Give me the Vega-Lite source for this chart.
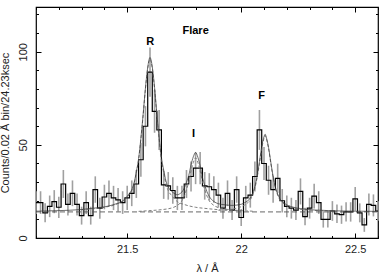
{
  "$schema": "https://vega.github.io/schema/vega-lite/v6.json",
  "width": 342,
  "height": 231,
  "autosize": {"type": "none"},
  "padding": {"left": 36, "top": 7, "right": 4, "bottom": 39},
  "background": "white",
  "config": {
    "view": {"stroke": "black", "strokeWidth": 1.2},
    "axis": {"domain": false, "grid": false, "tickColor": "black", "tickWidth": 1, "labelFont": "Liberation Sans", "labelFontSize": 11, "labelColor": "#222222", "titleFont": "Liberation Sans", "titleFontSize": 11, "titleFontWeight": "normal", "titleColor": "#222222", "labelOverlap": false, "labelBound": false, "labelFlush": false}
  },
  "resolve": {"axis": {"x": "independent", "y": "independent"}},
  "datasets": {
    "hist": [
      {"lam": 21.10, "c": 19, "err": 6.1}, {"lam": 21.12, "c": 19, "err": 6.1}, {"lam": 21.14, "c": 13.5, "err": 5.1},
      {"lam": 21.16, "c": 17, "err": 5.8}, {"lam": 21.18, "c": 19.5, "err": 6.2}, {"lam": 21.20, "c": 16.5, "err": 5.7},
      {"lam": 21.22, "c": 29, "err": 7.5}, {"lam": 21.24, "c": 18, "err": 5.9}, {"lam": 21.26, "c": 24, "err": 6.9},
      {"lam": 21.28, "c": 18, "err": 5.9}, {"lam": 21.30, "c": 12, "err": 4.8}, {"lam": 21.32, "c": 19, "err": 6.1},
      {"lam": 21.34, "c": 12, "err": 4.8}, {"lam": 21.36, "c": 26, "err": 7.1}, {"lam": 21.38, "c": 16, "err": 5.6},
      {"lam": 21.40, "c": 22, "err": 6.6}, {"lam": 21.42, "c": 24, "err": 6.9}, {"lam": 21.44, "c": 21.5, "err": 6.5},
      {"lam": 21.46, "c": 20.5, "err": 6.3}, {"lam": 21.48, "c": 19, "err": 6.1}, {"lam": 21.50, "c": 21.5, "err": 6.5},
      {"lam": 21.52, "c": 24, "err": 6.9}, {"lam": 21.54, "c": 29, "err": 7.5}, {"lam": 21.56, "c": 42, "err": 9.1},
      {"lam": 21.58, "c": 60, "err": 10.8}, {"lam": 21.60, "c": 89, "err": 13.2}, {"lam": 21.62, "c": 68, "err": 11.5},
      {"lam": 21.64, "c": 58, "err": 10.7}, {"lam": 21.66, "c": 28.5, "err": 7.5}, {"lam": 21.68, "c": 28, "err": 7.4},
      {"lam": 21.70, "c": 25.5, "err": 7.1}, {"lam": 21.72, "c": 21.5, "err": 6.5}, {"lam": 21.74, "c": 21.5, "err": 6.5},
      {"lam": 21.76, "c": 29, "err": 7.5}, {"lam": 21.78, "c": 33, "err": 8}, {"lam": 21.80, "c": 37.5, "err": 8.6},
      {"lam": 21.82, "c": 37.5, "err": 8.6}, {"lam": 21.84, "c": 28, "err": 7.4}, {"lam": 21.86, "c": 27.5, "err": 7.3},
      {"lam": 21.88, "c": 26, "err": 7.1}, {"lam": 21.90, "c": 23, "err": 6.7}, {"lam": 21.92, "c": 16, "err": 5.6},
      {"lam": 21.94, "c": 24, "err": 6.9}, {"lam": 21.96, "c": 15, "err": 5.4}, {"lam": 21.98, "c": 26, "err": 7.1},
      {"lam": 22.00, "c": 11, "err": 4.6}, {"lam": 22.02, "c": 21.5, "err": 6.5}, {"lam": 22.04, "c": 23, "err": 6.7},
      {"lam": 22.06, "c": 33, "err": 8}, {"lam": 22.08, "c": 58, "err": 10.7}, {"lam": 22.10, "c": 40, "err": 8.9},
      {"lam": 22.12, "c": 31, "err": 7.8}, {"lam": 22.14, "c": 26, "err": 7.1}, {"lam": 22.16, "c": 32, "err": 7.9},
      {"lam": 22.18, "c": 20, "err": 6.3}, {"lam": 22.20, "c": 17, "err": 5.8}, {"lam": 22.22, "c": 16, "err": 5.6},
      {"lam": 22.24, "c": 15, "err": 5.4}, {"lam": 22.26, "c": 25, "err": 7}, {"lam": 22.28, "c": 11.5, "err": 4.7},
      {"lam": 22.30, "c": 16, "err": 5.6}, {"lam": 22.32, "c": 22.5, "err": 6.6}, {"lam": 22.34, "c": 19, "err": 6.1},
      {"lam": 22.36, "c": 10, "err": 4.4}, {"lam": 22.38, "c": 10, "err": 4.4}, {"lam": 22.40, "c": 14.5, "err": 5.3},
      {"lam": 22.42, "c": 13, "err": 5}, {"lam": 22.44, "c": 12.5, "err": 4.9}, {"lam": 22.46, "c": 14, "err": 5.2},
      {"lam": 22.48, "c": 14, "err": 5.2}, {"lam": 22.50, "c": 21, "err": 6.4}, {"lam": 22.52, "c": 13.5, "err": 5.1},
      {"lam": 22.54, "c": 7, "err": 3.7}, {"lam": 22.56, "c": 18, "err": 5.9}, {"lam": 22.58, "c": 17.5, "err": 5.9},
      {"lam": 22.60, "c": 14.5, "err": 5.3}
    ],
    "model": [
      {"lam": 21.10, "v": 14.4}, {"lam": 21.20, "v": 14.7}, {"lam": 21.30, "v": 15.3}, {"lam": 21.35, "v": 16.0},
      {"lam": 21.40, "v": 16.7}, {"lam": 21.45, "v": 18.3}, {"lam": 21.48, "v": 19.8}, {"lam": 21.50, "v": 22.4},
      {"lam": 21.52, "v": 25.9}, {"lam": 21.53, "v": 29.5}, {"lam": 21.54, "v": 35.5}, {"lam": 21.55, "v": 42.5},
      {"lam": 21.56, "v": 53.5}, {"lam": 21.57, "v": 66.5}, {"lam": 21.58, "v": 80.5}, {"lam": 21.59, "v": 91.6},
      {"lam": 21.60, "v": 96.9}, {"lam": 21.61, "v": 91.9}, {"lam": 21.62, "v": 80.9}, {"lam": 21.63, "v": 67},
      {"lam": 21.64, "v": 54.2}, {"lam": 21.65, "v": 43.3}, {"lam": 21.66, "v": 36.5}, {"lam": 21.67, "v": 30.6},
      {"lam": 21.68, "v": 27.3}, {"lam": 21.69, "v": 25.6}, {"lam": 21.70, "v": 24.5}, {"lam": 21.72, "v": 23.2},
      {"lam": 21.73, "v": 23.7}, {"lam": 21.74, "v": 24.7}, {"lam": 21.75, "v": 26.7}, {"lam": 21.76, "v": 29.9},
      {"lam": 21.77, "v": 33.6}, {"lam": 21.78, "v": 39.3}, {"lam": 21.79, "v": 43.6}, {"lam": 21.80, "v": 45.9},
      {"lam": 21.81, "v": 43.3}, {"lam": 21.82, "v": 38.7}, {"lam": 21.83, "v": 32.5}, {"lam": 21.84, "v": 28.4},
      {"lam": 21.85, "v": 24.8}, {"lam": 21.86, "v": 22.3}, {"lam": 21.88, "v": 19.6}, {"lam": 21.90, "v": 18.4},
      {"lam": 21.93, "v": 17.8}, {"lam": 21.96, "v": 17.5}, {"lam": 22.00, "v": 18.1}, {"lam": 22.02, "v": 19.3},
      {"lam": 22.04, "v": 21.5}, {"lam": 22.05, "v": 24}, {"lam": 22.06, "v": 27.7}, {"lam": 22.07, "v": 33.4},
      {"lam": 22.08, "v": 41}, {"lam": 22.09, "v": 49}, {"lam": 22.10, "v": 54.4}, {"lam": 22.105, "v": 55.7},
      {"lam": 22.11, "v": 54.1}, {"lam": 22.12, "v": 48.6}, {"lam": 22.13, "v": 40.6}, {"lam": 22.14, "v": 33.1},
      {"lam": 22.15, "v": 27.3}, {"lam": 22.16, "v": 23.6}, {"lam": 22.17, "v": 21.0}, {"lam": 22.18, "v": 19.6},
      {"lam": 22.20, "v": 17.8}, {"lam": 22.23, "v": 16.5}, {"lam": 22.26, "v": 15.8}, {"lam": 22.30, "v": 15.2},
      {"lam": 22.35, "v": 14.9}, {"lam": 22.40, "v": 14.6}, {"lam": 22.50, "v": 14.4}, {"lam": 22.60, "v": 14.3}
    ],
    "comps": [
      {"comp": "R", "lam": 21.30, "v": 15.2}, {"comp": "R", "lam": 21.40, "v": 16.5}, {"comp": "R", "lam": 21.45, "v": 18},
      {"comp": "R", "lam": 21.50, "v": 22}, {"comp": "R", "lam": 21.52, "v": 25.5}, {"comp": "R", "lam": 21.53, "v": 29},
      {"comp": "R", "lam": 21.54, "v": 35}, {"comp": "R", "lam": 21.55, "v": 42}, {"comp": "R", "lam": 21.56, "v": 53},
      {"comp": "R", "lam": 21.57, "v": 66}, {"comp": "R", "lam": 21.58, "v": 80}, {"comp": "R", "lam": 21.59, "v": 91},
      {"comp": "R", "lam": 21.60, "v": 96}, {"comp": "R", "lam": 21.61, "v": 91}, {"comp": "R", "lam": 21.62, "v": 80},
      {"comp": "R", "lam": 21.63, "v": 66}, {"comp": "R", "lam": 21.64, "v": 53}, {"comp": "R", "lam": 21.65, "v": 42},
      {"comp": "R", "lam": 21.66, "v": 35}, {"comp": "R", "lam": 21.67, "v": 29}, {"comp": "R", "lam": 21.68, "v": 25.5},
      {"comp": "R", "lam": 21.69, "v": 23.5}, {"comp": "R", "lam": 21.70, "v": 22}, {"comp": "R", "lam": 21.72, "v": 19.5},
      {"comp": "R", "lam": 21.75, "v": 18}, {"comp": "R", "lam": 21.80, "v": 16.5}, {"comp": "R", "lam": 21.85, "v": 15.8},
      {"comp": "R", "lam": 21.90, "v": 15.2}, {"comp": "R", "lam": 22.00, "v": 14.6},
      {"comp": "I", "lam": 21.55, "v": 14.3}, {"comp": "I", "lam": 21.60, "v": 14.7}, {"comp": "I", "lam": 21.65, "v": 15.2},
      {"comp": "I", "lam": 21.68, "v": 15.7}, {"comp": "I", "lam": 21.70, "v": 16.3}, {"comp": "I", "lam": 21.72, "v": 17.5},
      {"comp": "I", "lam": 21.74, "v": 20}, {"comp": "I", "lam": 21.75, "v": 22.5}, {"comp": "I", "lam": 21.76, "v": 26},
      {"comp": "I", "lam": 21.77, "v": 30}, {"comp": "I", "lam": 21.78, "v": 36}, {"comp": "I", "lam": 21.79, "v": 40.5},
      {"comp": "I", "lam": 21.80, "v": 43}, {"comp": "I", "lam": 21.81, "v": 40.5}, {"comp": "I", "lam": 21.82, "v": 36},
      {"comp": "I", "lam": 21.83, "v": 30}, {"comp": "I", "lam": 21.84, "v": 26}, {"comp": "I", "lam": 21.85, "v": 22.5},
      {"comp": "I", "lam": 21.86, "v": 20}, {"comp": "I", "lam": 21.88, "v": 17.5}, {"comp": "I", "lam": 21.90, "v": 16.3},
      {"comp": "I", "lam": 21.95, "v": 15.2}, {"comp": "I", "lam": 22.00, "v": 14.7}, {"comp": "I", "lam": 22.05, "v": 14.4},
      {"comp": "F", "lam": 21.90, "v": 14.9}, {"comp": "F", "lam": 21.95, "v": 15.4}, {"comp": "F", "lam": 22.00, "v": 16.8},
      {"comp": "F", "lam": 22.02, "v": 18.1}, {"comp": "F", "lam": 22.04, "v": 20.5}, {"comp": "F", "lam": 22.05, "v": 23},
      {"comp": "F", "lam": 22.06, "v": 26.7}, {"comp": "F", "lam": 22.07, "v": 32.5}, {"comp": "F", "lam": 22.08, "v": 40},
      {"comp": "F", "lam": 22.09, "v": 48}, {"comp": "F", "lam": 22.10, "v": 53.5}, {"comp": "F", "lam": 22.105, "v": 55},
      {"comp": "F", "lam": 22.11, "v": 53.5}, {"comp": "F", "lam": 22.12, "v": 48}, {"comp": "F", "lam": 22.13, "v": 40},
      {"comp": "F", "lam": 22.14, "v": 32.5}, {"comp": "F", "lam": 22.15, "v": 26.7}, {"comp": "F", "lam": 22.16, "v": 23},
      {"comp": "F", "lam": 22.17, "v": 20.5}, {"comp": "F", "lam": 22.18, "v": 19.1}, {"comp": "F", "lam": 22.20, "v": 17.3},
      {"comp": "F", "lam": 22.25, "v": 15.6}, {"comp": "F", "lam": 22.30, "v": 15}, {"comp": "F", "lam": 22.40, "v": 14.4}
    ],
    "cont": [{"lam": 21.1, "v": 14}, {"lam": 22.6, "v": 14}],
    "labels": [
      {"lam": 21.601, "c": 105.4, "t": "R"},
      {"lam": 21.791, "c": 55.9, "t": "I"},
      {"lam": 22.089, "c": 76.1, "t": "F"},
      {"lam": 21.80, "c": 111.1, "t": "Flare"}
    ]
  },
  "layer": [
    {
      "data": {"name": "hist"},
      "mark": {"type": "errorbar", "color": "#a0a0a0", "thickness": 1.6},
      "encoding": {
        "x": {"field": "lam", "type": "quantitative", "scale": {"domain": [21.1, 22.6], "nice": false, "zero": false},
          "axis": {"orient": "bottom", "values": [21.1, 21.2, 21.3, 21.4, 21.5, 21.6, 21.7, 21.8, 21.9, 22.0, 22.1, 22.2, 22.3, 22.4, 22.5, 22.6],
            "tickSize": {"condition": {"test": "round(datum.value*10) % 5 == 0", "value": -5}, "value": -2.5},
            "labelExpr": "round(datum.value*10) == 215 ? '21.5' : (round(datum.value*10) == 220 ? '22' : (round(datum.value*10) == 225 ? '22.5' : ''))",
            "labelPadding": 10, "title": "λ / Å", "titlePadding": 6}},
        "y": {"field": "c", "type": "quantitative", "scale": {"domain": [0, 124], "nice": false, "zero": true},
          "axis": {"orient": "left", "values": [0, 10, 20, 30, 40, 50, 60, 70, 80, 90, 100, 110, 120],
            "tickSize": {"condition": {"test": "round(datum.value) % 50 == 0", "value": -5}, "value": -2.5},
            "labelExpr": "round(datum.value) % 50 == 0 ? datum.label : ''",
            "labelAngle": -90, "labelAlign": "center", "labelBaseline": "bottom", "labelPadding": 13,
            "title": "Counts/0.02 Å bin/24.23ksec", "titlePadding": 4}},
        "yError": {"field": "err"}
      }
    },
    {
      "data": {"name": "hist"},
      "mark": {"type": "line", "interpolate": "step", "color": "black", "strokeWidth": 1.2, "clip": true},
      "encoding": {
        "x": {"field": "lam", "type": "quantitative", "axis": null},
        "y": {"field": "c", "type": "quantitative", "axis": null}
      }
    },
    {
      "data": {"name": "cont"},
      "mark": {"type": "line", "color": "#555555", "strokeWidth": 0.9, "strokeDash": [5, 3], "clip": true},
      "encoding": {
        "x": {"field": "lam", "type": "quantitative",
          "axis": {"orient": "top", "values": [21.1, 21.2, 21.3, 21.4, 21.5, 21.6, 21.7, 21.8, 21.9, 22.0, 22.1, 22.2, 22.3, 22.4, 22.5, 22.6],
            "tickSize": {"condition": {"test": "round(datum.value*10) % 5 == 0", "value": -5}, "value": -2.5},
            "labels": false, "title": null}},
        "y": {"field": "v", "type": "quantitative",
          "axis": {"orient": "right", "values": [0, 10, 20, 30, 40, 50, 60, 70, 80, 90, 100, 110, 120],
            "tickSize": {"condition": {"test": "round(datum.value) % 50 == 0", "value": -5}, "value": -2.5},
            "labels": false, "title": null}}
      }
    },
    {
      "data": {"name": "comps"},
      "mark": {"type": "line", "interpolate": "monotone", "color": "#707070", "strokeWidth": 0.9, "strokeDash": [3, 2], "clip": true},
      "encoding": {
        "x": {"field": "lam", "type": "quantitative", "axis": null},
        "y": {"field": "v", "type": "quantitative", "axis": null},
        "detail": {"field": "comp"}
      }
    },
    {
      "data": {"name": "model"},
      "mark": {"type": "line", "interpolate": "monotone", "color": "#333333", "strokeWidth": 0.7, "clip": true},
      "encoding": {
        "x": {"field": "lam", "type": "quantitative", "axis": null},
        "y": {"field": "v", "type": "quantitative", "axis": null}
      }
    },
    {
      "data": {"name": "labels"},
      "mark": {"type": "text", "font": "Liberation Sans", "fontSize": 11, "fontWeight": "bold", "color": "black"},
      "encoding": {
        "x": {"field": "lam", "type": "quantitative", "axis": null},
        "y": {"field": "c", "type": "quantitative", "axis": null},
        "text": {"field": "t"}
      }
    }
  ]
}
